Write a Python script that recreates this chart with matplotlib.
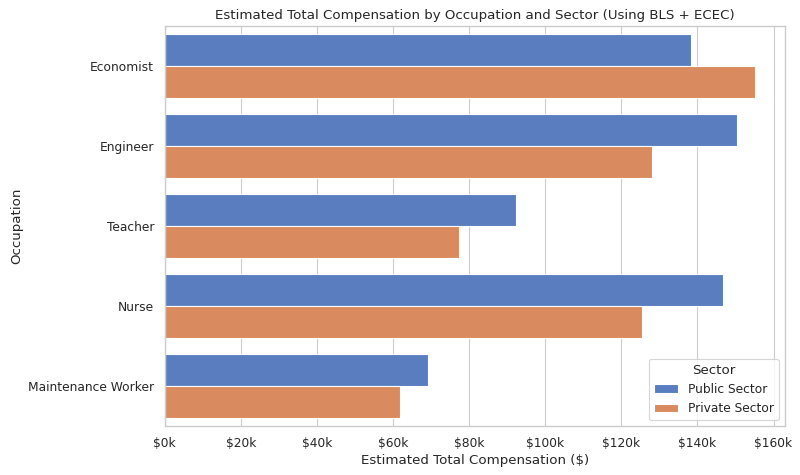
import matplotlib
matplotlib.use("Agg")
import matplotlib.pyplot as plt
import matplotlib.ticker as mticker
import seaborn as sns
import pandas as pd

occupations = ["Economist", "Engineer", "Teacher", "Nurse", "Maintenance Worker"]
public_comp = [138200, 150500, 92400, 146600, 69100]
private_comp = [155200, 128100, 77400, 125300, 61900]
sectors = ["Public Sector", "Private Sector"]

df = pd.DataFrame({
    "Occupation": occupations * 2,
    "Sector": [sectors[0]] * len(occupations) + [sectors[1]] * len(occupations),
    "Compensation": public_comp + private_comp,
})

sns.set_theme(style="whitegrid")
plt.rcParams['font.family'] = ['DejaVu Sans']

fig, ax = plt.subplots(figsize=(10, 5.9375), dpi=80)
sns.barplot(data=df, y="Occupation", x="Compensation", hue="Sector",
            palette="muted", orient="h", ax=ax)

ax.xaxis.set_major_formatter(mticker.FuncFormatter(lambda v, p: f"${v/1000:.0f}k"))
ax.set_title("Estimated Total Compensation by Occupation and Sector (Using BLS + ECEC)")
ax.set_xlabel("Estimated Total Compensation ($)")
ax.set_ylabel("Occupation")
ax.legend(title="Sector", loc="lower right")

fig.subplots_adjust(left=0.206, right=0.981, top=0.946, bottom=0.103)
fig.savefig("out.png", dpi=80)
